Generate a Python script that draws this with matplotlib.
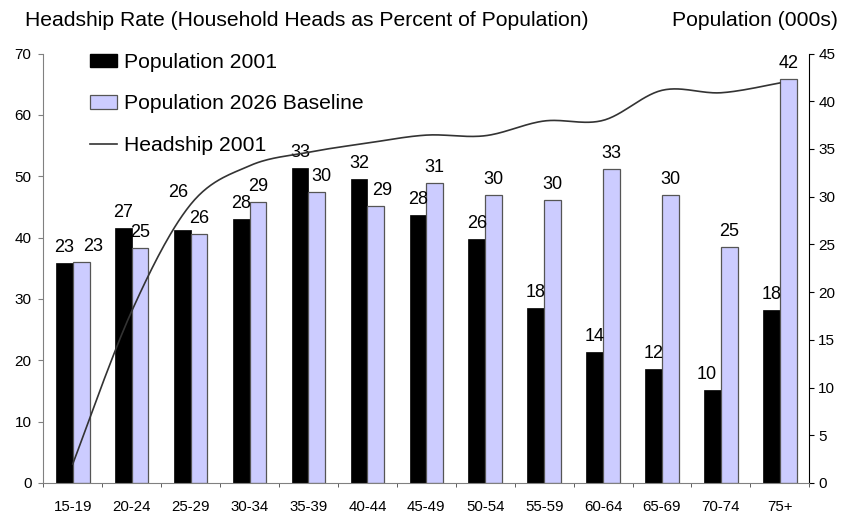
import matplotlib
matplotlib.use("Agg")
from matplotlib import pyplot as plt
from matplotlib.patches import Patch
from matplotlib.lines import Line2D
import numpy as np

plt.rcParams['font.family'] = ['Liberation Sans', 'DejaVu Sans']

# age groups and series
age_groups = ["15-19", "20-24", "25-29", "30-34", "35-39", "40-44", "45-49",
              "50-54", "55-59", "60-64", "65-69", "70-74", "75+"]
pop_2001 = [23.0, 26.7, 26.5, 27.7, 33.0, 31.8, 28.1, 25.6, 18.3, 13.7, 11.9, 9.7, 18.1]
pop_2026 = [23.2, 24.6, 26.1, 29.4, 30.5, 29.0, 31.4, 30.2, 29.6, 32.9, 30.2, 24.7, 42.3]
headship_2001 = [3.1, 28.0, 45.4, 51.7, 53.9, 55.4, 56.7, 56.6, 59.0, 59.1, 64.0, 63.6, 65.2]

# label nudges (pixels) for a few crowded labels: (series, index) -> (dx, dy)
label_nudge = {(1, 0): (12, 0), (0, 2): (-4, 22), (1, 4): (5, 0), (1, 5): (6, 0),
               (0, 11): (-6, 0)}


def smooth_curve(y, n=30):
    # Catmull-Rom spline through the points (same as a smoothed line in a spreadsheet)
    y = np.asarray(y, float)
    x = np.arange(len(y), dtype=float)
    pts = np.column_stack([x, y])
    pad = np.vstack([pts[0], pts, pts[-1]])
    out = []
    for i in range(len(pts) - 1):
        p0, p1, p2, p3 = pad[i], pad[i + 1], pad[i + 2], pad[i + 3]
        c1 = p1 + (p2 - p0) / 6.0
        c2 = p2 - (p3 - p1) / 6.0
        t = np.linspace(0, 1, n)[:, None]
        seg = ((1 - t) ** 3) * p1 + 3 * ((1 - t) ** 2) * t * c1 + 3 * (1 - t) * t ** 2 * c2 + t ** 3 * p2
        out.append(seg if i == 0 else seg[1:])
    out = np.vstack(out)
    return out[:, 0], out[:, 1]


fig = plt.figure(figsize=(8.41, 5.14), dpi=100)
ax = fig.add_axes([43.3 / 841, 1 - 483 / 514, 766 / 841, 429.5 / 514])
ax2 = ax.twinx()

x = np.arange(len(age_groups))
w = 0.285
b1 = ax2.bar(x - w / 2, pop_2001, w, color="black", edgecolor="black", linewidth=0.5)
b2 = ax2.bar(x + w / 2, pop_2026, w, color="#ccccff", edgecolor="#555555", linewidth=0.9)

for s, bars in enumerate([b1, b2]):
    for i, bar in enumerate(bars):
        dx, dy = label_nudge.get((s, i), (0, 0))
        ax2.annotate(f"{bar.get_height():.0f}",
                     (bar.get_x() + bar.get_width() / 2, bar.get_height()),
                     xytext=(dx * 0.72, (7 + dy) * 0.72), textcoords="offset points",
                     ha="center", va="bottom", fontsize=13)

# headship line on the left scale, drawn above the bars
sx, sy = smooth_curve(headship_2001)
ax.plot(sx, sy, color="#333333", linewidth=1.2)
ax.set_zorder(ax2.get_zorder() + 1)
ax.patch.set_visible(False)

ax.set_xlim(-0.5, len(age_groups) - 0.5)
ax.set_ylim(0, 70)
ax.set_yticks(range(0, 71, 10))
ax2.set_ylim(0, 45)
ax2.set_yticks(range(0, 46, 5))

ax.set_xticks(x)
ax.set_xticklabels(age_groups, fontsize=10.8)
ax.set_xticks(np.arange(-0.5, len(age_groups)), minor=True)
ax.tick_params(axis="x", which="major", length=0, pad=12)
ax.tick_params(axis="x", which="minor", length=3, direction="out", color="#444444")
ax.tick_params(axis="y", length=3.5, direction="out", labelsize=11, pad=5, color="#808080")
ax2.tick_params(axis="y", length=3.5, direction="out", labelsize=11, pad=3)

for a in (ax, ax2):
    a.spines["top"].set_visible(False)
ax.spines["right"].set_visible(False)
ax.spines["left"].set_color("#808080")
ax.spines["bottom"].set_color("#808080")
ax2.spines["left"].set_visible(False)
ax2.spines["bottom"].set_visible(False)
ax2.spines["right"].set_color("black")

fig.text(25 / 841, 1 - 21 / 514, "Headship Rate (Household Heads as Percent of Population)",
         ha="left", va="center", fontsize=15.2)
fig.text(838 / 841, 1 - 21 / 514, "Population (000s)", ha="right", va="center", fontsize=15.2)

handles = [Patch(facecolor="black", edgecolor="black"),
           Patch(facecolor="#ccccff", edgecolor="#555555", linewidth=0.9),
           Line2D([0], [0], color="#333333", linewidth=1.2)]
ax.legend(handles, ["Population 2001", "Population 2026 Baseline", "Headship 2001"],
          loc="upper left", bbox_to_anchor=(90 / 841, 1 - 53 / 514), bbox_transform=fig.transFigure,
          frameon=False, fontsize=15.2, borderpad=0, borderaxespad=0, handlelength=1.3,
          handleheight=0.62, handletextpad=0.3, labelspacing=1.06)

fig.savefig("out.png", dpi=100)
